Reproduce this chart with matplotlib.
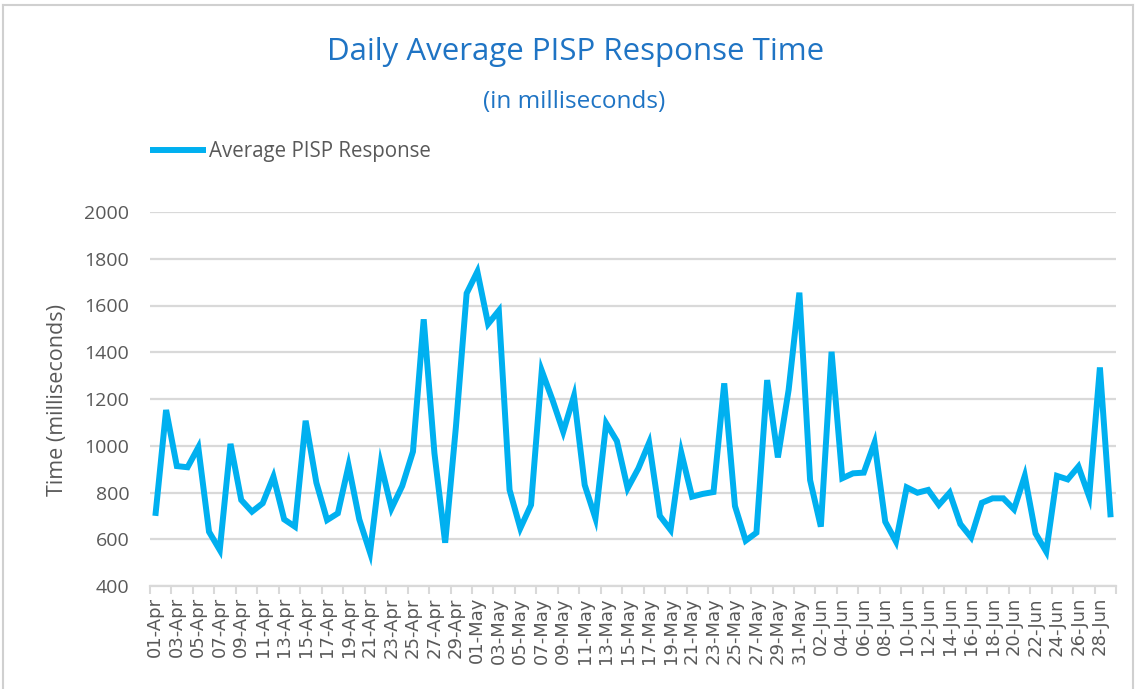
import numpy as np
import pandas as pd
import matplotlib
matplotlib.use("Agg")
import matplotlib.pyplot as plt
from matplotlib.lines import Line2D

# ---- data ----
dates = pd.date_range("2024-04-01", periods=90, freq="D")
date_labels = [d.strftime("%d-%b") for d in dates]
response_ms = [
    700, 1153, 913, 908, 993, 632, 554, 1008, 768, 718,
    754, 868, 685, 654, 1107, 842, 682, 711, 915, 685,
    543, 922, 732, 828, 975, 1541, 968, 585, 1080, 1652,
    1745, 1521, 1578, 811, 647, 747, 1321, 1196, 1060, 1213,
    832, 690, 1096, 1020, 818, 903, 1013, 700, 640, 970,
    782, 794, 802, 1267, 742, 594, 628, 1281, 950, 1239,
    1655, 853, 654, 1402, 861, 882, 885, 1013, 675, 590,
    822, 799, 811, 747, 799, 665, 608, 756, 775, 775,
    728, 871, 625, 547, 871, 856, 911, 782, 1335, 694,
]
y_ticks = [400, 600, 800, 1000, 1200, 1400, 1600, 1800, 2000]
series_name = "Average PISP Response"
title = "Daily Average PISP Response Time"
subtitle = "(in milliseconds)"
y_label = "Time (milliseconds)"

# ---- style ----
W, H = 1136, 689
LINE = "#00B0F0"
GRID = "#D9D9D9"
TXT = "#595959"
BLUE = "#1F74C4"
TFONT = ["Open Sans", "DejaVu Sans"]

fig = plt.figure(figsize=(W / 100, H / 100), dpi=100)
fig.patch.set_facecolor("white")

left, right, top, bottom = 150, 1116, 212, 586
ax = fig.add_axes([left / W, 1 - bottom / H, (right - left) / W, (bottom - top) / H])

x = np.arange(len(response_ms))
ax.plot(x, response_ms, color=LINE, lw=4.3, solid_joinstyle="miter",
        solid_capstyle="butt", label=series_name, zorder=3)

ax.set_xlim(-0.5, len(response_ms) - 0.5)
ax.set_ylim(y_ticks[0], y_ticks[-1])
ax.set_yticks(y_ticks)
ax.set_yticklabels([str(v) for v in y_ticks], family=TFONT, fontsize=14, color=TXT)
ax.yaxis.grid(True, color=GRID, lw=1.6, zorder=0)
ax.set_axisbelow(True)

major = list(range(0, len(response_ms), 2))
ax.set_xticks(major)
ax.set_xticklabels([date_labels[i] for i in major], rotation=90,
                   family="DejaVu Sans", fontsize=13, color=TXT, va="top")
ax.set_xticks(np.arange(-0.5, len(response_ms), 2), minor=True)
ax.tick_params(axis="x", which="major", length=0, pad=8)
ax.tick_params(axis="x", which="minor", length=6, width=1.5, color=GRID)
ax.tick_params(axis="y", length=0, pad=15)

for s in ["left", "right", "top"]:
    ax.spines[s].set_visible(False)
ax.spines["bottom"].set_color(GRID)
ax.spines["bottom"].set_linewidth(1.6)

fig.text(58 / W, 1 - 400 / H, y_label, rotation=90, ha="center", va="center",
         family=TFONT, fontsize=15.5, color=TXT)

fig.text(576 / W, 1 - 60 / H, title, ha="center", va="baseline",
         family=TFONT, fontsize=22.5, color=BLUE)
fig.text(574 / W, 1 - 108 / H, subtitle, ha="center", va="baseline",
         family=TFONT, fontsize=17.5, color=BLUE)

leg = ax.legend(loc="center left", bbox_to_anchor=(150 / W, 1 - 152 / H),
                bbox_transform=fig.transFigure, frameon=False,
                handlelength=2.7, handletextpad=0.15, borderpad=0, borderaxespad=0,
                prop={"family": TFONT, "size": 14.8})
for t in leg.get_texts():
    t.set_color(TXT)

# chart-area border
for xs, ys in [((3, 3), (5, H)), ((3, 1133), (5, 5)), ((1133, 1133), (5, H))]:
    fig.add_artist(Line2D([v / W for v in xs], [1 - v / H for v in ys],
                          color="#D0D0D0", lw=1.5, transform=fig.transFigure))

fig.savefig("out.png", dpi=100, facecolor="white")
